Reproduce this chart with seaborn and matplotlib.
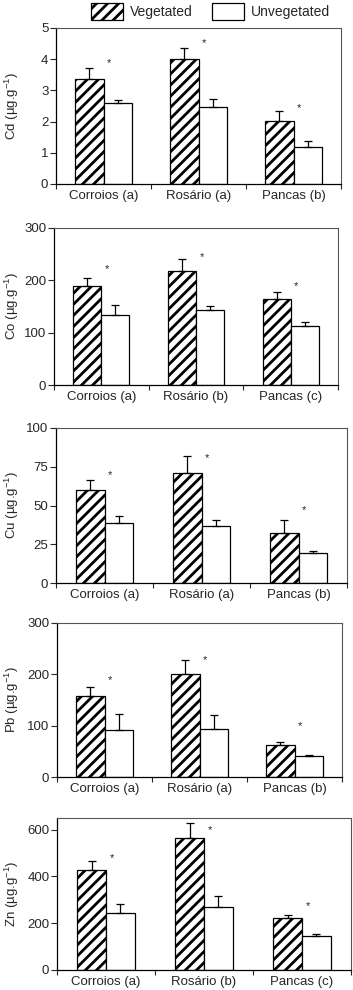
import matplotlib
matplotlib.use("Agg")
import matplotlib.pyplot as plt
from matplotlib.patches import Patch
from matplotlib.container import BarContainer
import seaborn as sns
import pandas as pd
import numpy as np

# ---------------- data ----------------
sites = ["Corroios", "Rosário", "Pancas"]
treatments = ["Vegetated", "Unvegetated"]

metals = ["Cd", "Co", "Cu", "Pb", "Zn"]
site_letters = {
    "Cd": ["a", "a", "b"],
    "Co": ["a", "b", "c"],
    "Cu": ["a", "a", "b"],
    "Pb": ["a", "a", "b"],
    "Zn": ["a", "b", "c"],
}

cd_veg = [3.36, 4.00, 2.02]
cd_veg_err = [0.35, 0.35, 0.31]
cd_unveg = [2.61, 2.46, 1.17]
cd_unveg_err = [0.09, 0.26, 0.21]
cd_star = [3.98, 4.60, 2.54]

co_veg = [189, 218, 165]
co_veg_err = [16, 22, 12.5]
co_unveg = [133.6, 144, 112.5]
co_unveg_err = [19, 7, 8.3]
co_star = [226, 250, 195]

cu_veg = [59.8, 71.2, 32.3]
cu_veg_err = [6.9, 10.5, 8.6]
cu_unveg = [38.7, 36.8, 19.6]
cu_unveg_err = [4.5, 4.1, 1.3]
cu_star = [71.2, 82.4, 48.6]

pb_veg = [158, 201.5, 62.6]
pb_veg_err = [18, 25.5, 6]
pb_unveg = [91.4, 93.3, 41.8]
pb_unveg_err = [30.6, 26.7, 2]
pb_star = [194, 233, 104.5]

zn_veg = [426, 564, 223]
zn_veg_err = [40, 63, 11]
zn_unveg = [244, 269, 146]
zn_unveg_err = [39, 49.5, 10]
zn_star = [490, 611, 284]

y_limits = {"Cd": 5, "Co": 300, "Cu": 100, "Pb": 300, "Zn": 650}
y_ticks = {
    "Cd": [0, 1, 2, 3, 4, 5],
    "Co": [0, 100, 200, 300],
    "Cu": [0, 25, 50, 75, 100],
    "Pb": [0, 100, 200, 300],
    "Zn": [0, 200, 400, 600],
}

panel_data = {
    "Cd": (cd_veg, cd_veg_err, cd_unveg, cd_unveg_err, cd_star),
    "Co": (co_veg, co_veg_err, co_unveg, co_unveg_err, co_star),
    "Cu": (cu_veg, cu_veg_err, cu_unveg, cu_unveg_err, cu_star),
    "Pb": (pb_veg, pb_veg_err, pb_unveg, pb_unveg_err, pb_star),
    "Zn": (zn_veg, zn_veg_err, zn_unveg, zn_unveg_err, zn_star),
}

# ---------------- style ----------------
sns.set_style("ticks")
plt.rcParams["font.family"] = ["Liberation Sans", "DejaVu Sans"]
plt.rcParams["hatch.linewidth"] = 2.0
plt.rcParams["mathtext.fontset"] = "custom"
plt.rcParams["mathtext.rm"] = "Liberation Sans"

W, H = 353, 990
fig = plt.figure(figsize=(W / 100, H / 100), dpi=100)

# axes boxes in pixels: left, right, top, bottom
boxes = {
    "Cd": (56, 341, 28, 184),
    "Co": (54, 338, 228, 385),
    "Cu": (56, 347, 428, 583),
    "Pb": (57, 342, 623, 777),
    "Zn": (57, 351, 818, 970),
}

HATCH = "///"

for m in metals:
    l, r, t, b = boxes[m]
    ax = fig.add_axes([l / W, 1 - b / H, (r - l) / W, (b - t) / H])
    veg, veg_e, unv, unv_e, star = panel_data[m]
    cats = [f"{s} ({c})" for s, c in zip(sites, site_letters[m])]
    df = pd.DataFrame({
        "site": cats * 2,
        "treatment": [treatments[0]] * 3 + [treatments[1]] * 3,
        "value": list(veg) + list(unv),
    })
    sns.barplot(data=df, x="site", y="value", hue="treatment",
                order=cats, hue_order=treatments,
                palette=["white", "white"], edgecolor="black", linewidth=0.9,
                width=0.59, gap=0, errorbar=None, legend=False, ax=ax,
                saturation=1)
    errs = [veg_e, unv_e]
    bar_conts = [c for c in ax.containers if isinstance(c, BarContainer)]
    for ci, cont in enumerate(bar_conts):
        xs = [p.get_x() + p.get_width() / 2 for p in cont.patches]
        hs = [p.get_height() for p in cont.patches]
        for p in cont.patches:
            if ci == 0:
                p.set_hatch(HATCH)
        ax.errorbar(xs, hs, yerr=[np.zeros(3), errs[ci]], fmt="none",
                    ecolor="black", elinewidth=0.9, capsize=3.2,
                    capthick=0.9, zorder=1)
    for i, s in enumerate(star):
        ax.annotate("*", (i + 0.06, s), xytext=(0, -4.2),
                    textcoords="offset points", ha="center", va="baseline",
                    fontsize=8)
    ax.set_xlim(-0.5, 2.5)
    ax.set_ylim(0, y_limits[m])
    ax.set_yticks(y_ticks[m])
    ax.set_xlabel("")
    ax.set_ylabel(m + r" (µg.g$^{\mathregular{-1}}$)", fontsize=9.5)
    ax.yaxis.set_label_coords(-(l - 21) / (r - l), 0.5)
    ax.tick_params(axis="y", labelsize=9.5, length=4, width=0.8, pad=1.5,
                   direction="out")
    ax.tick_params(axis="x", which="major", labelsize=9.5, length=0, pad=4.5)
    ax.set_xticks([-0.5, 0.5, 1.5, 2.5], minor=True)
    ax.tick_params(axis="x", which="minor", length=3.5, width=0.8,
                   direction="out")
    for side in ["left", "bottom"]:
        ax.spines[side].set_color("black")
        ax.spines[side].set_linewidth(0.9)
    for side in ["top", "right"]:
        ax.spines[side].set_visible(True)
        ax.spines[side].set_color("#555555")
        ax.spines[side].set_linewidth(0.8)

handles = [Patch(facecolor="white", edgecolor="black", hatch=HATCH,
                 linewidth=0.9, label=treatments[0]),
           Patch(facecolor="white", edgecolor="black", linewidth=0.9,
                 label=treatments[1])]
fig.legend(handles=handles, loc="center", bbox_to_anchor=(0.597, 0.9885),
           ncol=2, frameon=False, fontsize=10, handlelength=2.3,
           handleheight=1.5, handletextpad=0.5, columnspacing=1.4,
           borderpad=0, borderaxespad=0)

fig.savefig("out.png", dpi=100)
